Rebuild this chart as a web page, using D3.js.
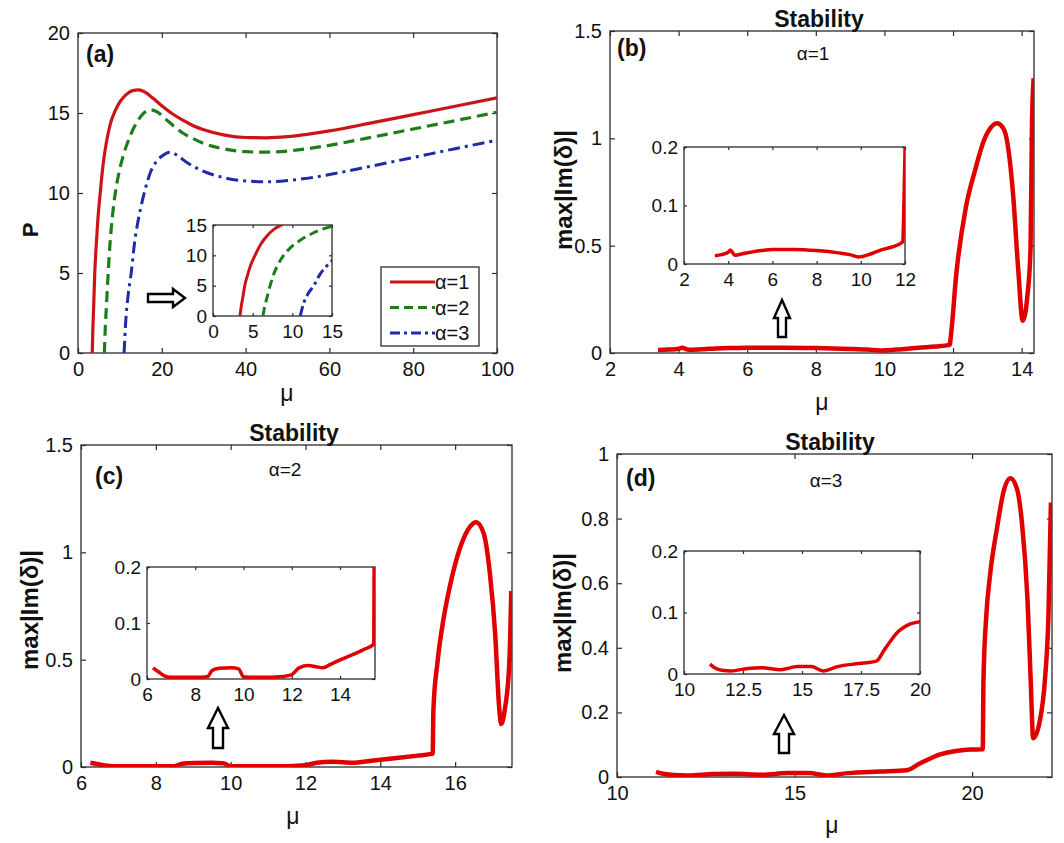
<!DOCTYPE html>
<html><head><meta charset="utf-8">
<script src="https://cdn.jsdelivr.net/npm/d3@7"></script>
<style>
body{margin:0;background:#fff;}
svg text{font-family:"Liberation Sans",Arial,sans-serif;fill:#111;}
</style></head><body>
<svg id="c" width="1064" height="843"></svg>
<script>
// ---------- DATA ----------
// Panel (a): P vs mu for alpha = 1, 2, 3
const curveAlpha1 = [[3.4,0],[3.55,1.5],[3.75,3],[4.0,5],[4.3,6.5],[4.7,8.2],[5.3,10],[6.0,11.8],[6.8,13.2],[7.8,14.4],[8.8,15.1],[10,15.7],[11.5,16.15],[13,16.4],[14.5,16.45],[16,16.3],[18,15.9],[20,15.45],[22.5,14.95],[25,14.55],[27.5,14.2],[30,13.95],[35,13.62],[40,13.47],[45,13.45],[50,13.52],[55,13.68],[60,13.88],[70,14.38],[80,14.9],[90,15.42],[100,15.95]];
const curveAlpha2 = [[6.3,0],[6.5,1.5],[6.8,3],[7.2,5],[7.6,6.7],[8.2,8.5],[8.9,10],[9.8,11.3],[11,12.5],[12.5,13.6],[14,14.4],[15.5,14.95],[17.3,15.2],[19,15.05],[21,14.6],[23,14.15],[25,13.75],[27.5,13.4],[30,13.1],[35,12.75],[40,12.58],[45,12.55],[50,12.62],[55,12.78],[60,12.98],[70,13.48],[80,14.0],[90,14.52],[100,15.05]];
const curveAlpha3 = [[11,0],[11.4,2],[12,3.7],[12.7,5],[13.5,6.9],[14.3,8.2],[15,9.1],[16,10.2],[17.3,11.3],[18.8,12.0],[20,12.3],[22,12.55],[24,12.3],[26,11.9],[28,11.6],[30,11.35],[35,10.95],[40,10.75],[45,10.7],[50,10.78],[55,10.93],[60,11.15],[70,11.68],[80,12.22],[90,12.77],[100,13.3]];
const legendLabels = ["α=1","α=2","α=3"];

// Panel (b): stability, alpha = 1
const stabAlpha1 = [[3.4,0.014],[3.7,0.016],[4.0,0.02],[4.1,0.024],[4.3,0.015],[4.7,0.018],[5,0.02],[5.5,0.023],[6,0.025],[7,0.025],[8,0.023],[9,0.019],[9.5,0.016],[9.9,0.012],[10.5,0.018],[11,0.025],[11.5,0.03],[11.9,0.038],[11.95,0.1],[12.09,0.36],[12.37,0.675],[12.64,0.85],[12.9,0.99],[13.1,1.05],[13.28,1.07],[13.45,1.05],[13.56,1.0],[13.75,0.74],[13.9,0.39],[14.03,0.15],[14.17,0.27],[14.26,0.49],[14.3,1.05],[14.35,1.28]];
// Panel (c): stability, alpha = 2
const stabAlpha2 = [[6.25,0.02],[6.5,0.012],[6.7,0.006],[7,0.003],[7.5,0.003],[8,0.003],[8.5,0.004],[8.7,0.015],[9,0.019],[9.5,0.02],[9.8,0.018],[10,0.004],[10.5,0.003],[11,0.003],[11.5,0.004],[12,0.008],[12.3,0.02],[12.7,0.024],[13,0.022],[13.3,0.02],[13.6,0.026],[14,0.034],[14.5,0.043],[15,0.053],[15.4,0.062],[15.42,0.27],[15.53,0.49],[15.7,0.7],[15.87,0.85],[16.13,1.02],[16.4,1.12],[16.56,1.14],[16.76,1.09],[16.93,0.9],[17.07,0.62],[17.18,0.27],[17.23,0.2],[17.33,0.27],[17.45,0.49],[17.5,0.82]];
// Panel (d): stability, alpha = 3
const stabAlpha3 = [[11.1,0.016],[11.3,0.01],[11.6,0.006],[12,0.005],[12.7,0.009],[13.3,0.01],[14.1,0.007],[14.8,0.012],[15.4,0.012],[15.9,0.005],[16.5,0.012],[17.4,0.017],[18.15,0.021],[18.5,0.04],[19.1,0.07],[19.5,0.08],[20,0.085],[20.3,0.086],[20.32,0.3],[20.4,0.5],[20.5,0.62],[20.7,0.77],[20.9,0.89],[21.08,0.925],[21.27,0.89],[21.41,0.78],[21.56,0.55],[21.65,0.3],[21.72,0.12],[21.9,0.17],[22.05,0.3],[22.15,0.5],[22.22,0.85]];

// tick values
const ticksAx = [0,20,40,60,80,100], ticksAy = [0,5,10,15,20], ticksAin = [0,5,10,15];
const ticksBx = [2,4,6,8,10,12,14], ticksBCy = [0,0.5,1,1.5];
const ticksBinX = [2,4,6,8,10,12], ticksInY = [0,0.1,0.2];
const ticksCx = [6,8,10,12,14,16], ticksCinX = [6,8,10,12,14];
const ticksDx = [10,15,20], ticksDy = [0,0.2,0.4,0.6,0.8,1], ticksDinX = [10,12.5,15,17.5,20];

// ---------- DRAWING ----------
const svg = d3.select('#c');
const FONT = '"Liberation Sans", Arial, sans-serif';
const fmt = d3.format('~g');
let clipN = 0;

function panel(box, xDom, yDom, xTicks, yTicks, o) {
  const x = d3.scaleLinear().domain(xDom).range([box.x0, box.x1]);
  const y = d3.scaleLinear().domain(yDom).range([box.y1, box.y0]);
  const g = svg.append('g');
  g.append('rect').attr('x', box.x0).attr('y', box.y0)
    .attr('width', box.x1 - box.x0).attr('height', box.y1 - box.y0)
    .attr('fill', '#fff').attr('stroke', '#2b2b2b').attr('stroke-width', 1.3);
  const len = o.tick;
  const axes = [
    [d3.axisBottom(x).tickValues(xTicks).tickSize(-len).tickPadding(o.padX).tickFormat(fmt), `translate(0,${box.y1})`],
    [d3.axisTop(x).tickValues(xTicks).tickSize(-len).tickFormat(''), `translate(0,${box.y0})`],
    [d3.axisLeft(y).tickValues(yTicks).tickSize(-len).tickPadding(o.padY).tickFormat(fmt), `translate(${box.x0},0)`],
    [d3.axisRight(y).tickValues(yTicks).tickSize(-len).tickFormat(''), `translate(${box.x1},0)`]
  ];
  axes.forEach(([a, t]) => {
    const ag = g.append('g').attr('transform', t).call(a);
    ag.select('.domain').remove();
    ag.attr('font-size', o.fs).attr('font-family', FONT).attr('color', '#111');
    ag.selectAll('line').attr('stroke', '#2b2b2b').attr('stroke-width', 1.2);
  });
  const id = 'clip' + (clipN++);
  svg.append('clipPath').attr('id', id).append('rect')
    .attr('x', box.x0).attr('y', box.y0).attr('width', box.x1 - box.x0).attr('height', box.y1 - box.y0);
  const lg = g.append('g').attr('clip-path', `url(#${id})`);
  return {x, y, g, lg};
}

function curve(p, data, color, w, dash) {
  p.lg.append('path').datum(data)
    .attr('d', d3.line().x(d => p.x(d[0])).y(d => p.y(d[1])).curve(d3.curveMonotoneX))
    .attr('fill', 'none').attr('stroke', color).attr('stroke-width', w)
    .attr('stroke-dasharray', dash || null).attr('stroke-linejoin', 'round');
}

function text(x, y, s, size, weight, anchor, rot) {
  const t = svg.append('text').attr('font-size', size).attr('font-weight', weight || 'normal')
    .attr('text-anchor', anchor || 'middle').text(s);
  if (rot) t.attr('transform', `translate(${x},${y}) rotate(-90)`);
  else t.attr('x', x).attr('y', y);
  return t;
}

function upArrow(cx, ty, hy, by, sw, hw) {
  svg.append('path').attr('d', `M${cx-sw},${by} L${cx-sw},${hy} L${cx-hw},${hy} L${cx},${ty} L${cx+hw},${hy} L${cx+sw},${hy} L${cx+sw},${by} Z`)
    .attr('fill', '#fff').attr('stroke', '#000').attr('stroke-width', 2.4).attr('stroke-linejoin', 'miter');
}

const RED_A = '#cc1418', GREEN_A = '#1d7d1d', BLUE_A = '#1f2aa8', RED = '#e00000';
const DASH2 = '11,6', DASH3 = '12,5,3,5';
const mainOpt = {tick: 5, fs: 20, padX: 9, padY: 8};
const inOpt = {tick: 3, fs: 19, padX: 9, padY: 6};

// ----- Panel (a) -----
const pa = panel({x0:78, x1:497, y0:33, y1:353}, [0,100], [0,20], ticksAx, ticksAy, mainOpt);
curve(pa, curveAlpha1, RED_A, 3.2);
curve(pa, curveAlpha2, GREEN_A, 3.2, DASH2);
curve(pa, curveAlpha3, BLUE_A, 3, DASH3);
const pai = panel({x0:213, x1:332, y0:225, y1:316}, [0,15], [0,15], ticksAin, ticksAin, inOpt);
curve(pai, curveAlpha1, RED_A, 3);
curve(pai, curveAlpha2, GREEN_A, 3, '9,5');
curve(pai, curveAlpha3, BLUE_A, 3, '10,4,3,4');
text(86, 62, '(a)', 23, 'bold', 'start').attr('fill', '#141a33');
text(38, 230, 'P', 22, 'bold', 'middle', true);
text(287, 401, 'μ', 23);
// arrow (a)
svg.append('path').attr('d', 'M148,294 L173,294 L173,289 L185,298 L173,307 L173,302 L148,302 Z')
  .attr('fill', '#fff').attr('stroke', '#000').attr('stroke-width', 2.4);
// legend
const leg = svg.append('g');
leg.append('rect').attr('x', 381).attr('y', 267).attr('width', 98).attr('height', 79)
  .attr('fill', '#fff').attr('stroke', '#2b2b2b').attr('stroke-width', 1.3);
const legStyles = [[RED_A, null], [GREEN_A, '9,5'], [BLUE_A, '10,4,3,4']];
legendLabels.forEach((l, i) => {
  const yy = 282 + i * 25.5;
  leg.append('line').attr('x1', 390).attr('x2', 435).attr('y1', yy).attr('y2', yy)
    .attr('stroke', legStyles[i][0]).attr('stroke-width', 3).attr('stroke-dasharray', legStyles[i][1]);
  leg.append('text').attr('x', 435).attr('y', yy + 7).attr('font-size', 20).text(l);
});

// ----- Panel (b) -----
const pb = panel({x0:610, x1:1034, y0:31, y1:353}, [2,14.36], [0,1.5], ticksBx, ticksBCy, mainOpt);
curve(pb, stabAlpha1, RED, 4.5);
const pbi = panel({x0:684, x1:905, y0:147, y1:264}, [2,12], [0,0.2], ticksBinX, ticksInY, inOpt);
curve(pbi, stabAlpha1, RED, 3.5);
text(819, 27, 'Stability', 23, 'bold');
text(813, 60, 'α=1', 19);
text(617, 56, '(b)', 23, 'bold', 'start').attr('fill', '#141a33');
text(572, 190, 'max|Im(δ)|', 24, 'bold', 'middle', true);
text(822, 410, 'μ', 23);
upArrow(782, 300, 318, 337, 4, 8);

// ----- Panel (c) -----
const pc = panel({x0:81, x1:512, y0:445, y1:767}, [6,17.52], [0,1.5], ticksCx, ticksBCy, mainOpt);
curve(pc, stabAlpha2, RED, 4.5);
const pci = panel({x0:147, x1:375, y0:567, y1:679}, [6,15.45], [0,0.2], ticksCinX, ticksInY, inOpt);
curve(pci, stabAlpha2, RED, 3.5);
text(294, 441, 'Stability', 23, 'bold');
text(285, 476, 'α=2', 19);
text(95, 484, '(c)', 23, 'bold', 'start').attr('fill', '#141a33');
text(38, 610, 'max|Im(δ)|', 24, 'bold', 'middle', true);
text(293, 824, 'μ', 23);
upArrow(218, 708, 728, 748, 5, 10);

// ----- Panel (d) -----
const pd = panel({x0:617, x1:1052, y0:454, y1:777}, [10,22.25], [0,1], ticksDx, ticksDy, mainOpt);
curve(pd, stabAlpha3, RED, 4.5);
const pdi = panel({x0:684, x1:920, y0:551, y1:674}, [10,20], [0,0.2], ticksDinX, ticksInY, inOpt);
curve(pdi, stabAlpha3, RED, 3.5);
text(830, 450, 'Stability', 23, 'bold');
text(826, 487, 'α=3', 19);
text(626, 486, '(d)', 23, 'bold', 'start').attr('fill', '#141a33');
text(571, 613, 'max|Im(δ)|', 24, 'bold', 'middle', true);
text(832, 833, 'μ', 23);
upArrow(784, 715, 734, 753, 5, 10);
</script>
</body></html>
